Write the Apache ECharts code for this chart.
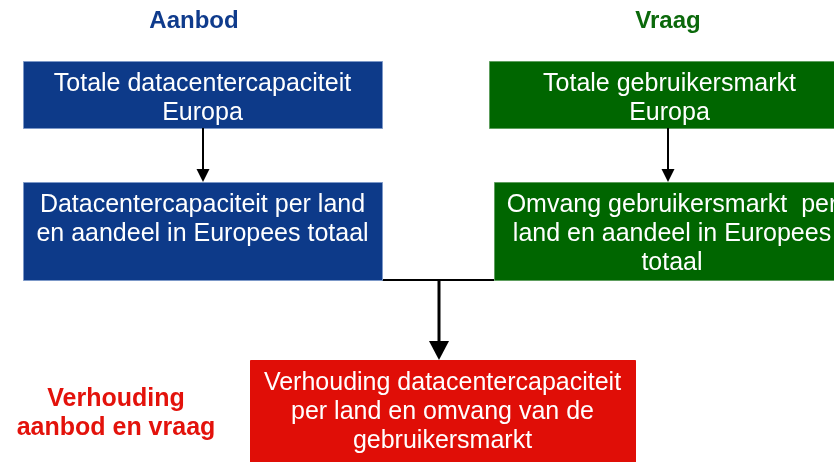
<!DOCTYPE html>
<html>
<head>
<meta charset="utf-8">
<script src="https://cdn.jsdelivr.net/npm/echarts@6/dist/echarts.min.js"></script>
<style>
  html, body { margin: 0; padding: 0; background: #ffffff; }
  #chart { width: 834px; height: 462px; }
</style>
</head>
<body>
<div id="chart"></div>
<script>
// 方框文字
const boxTexts = [
    'Totale datacentercapaciteit\nEuropa',
    'Datacentercapaciteit per land\nen aandeel in Europees totaal',
    'Totale gebruikersmarkt\nEuropa',
    'Omvang gebruikersmarkt  per\nland en aandeel in Europees\ntotaal',
    'Verhouding datacentercapaciteit\nper land en omvang van de\ngebruikersmarkt'
];
// 方框所属组: aanbod / vraag / verhouding
const boxGroups = ['aanbod', 'aanbod', 'vraag', 'vraag', 'verhouding'];
// 方框范围 (图表单位)
const boxLeft = [23, 23, 489, 494, 250];
const boxTop = [61, 182, 61, 182, 360];
const boxRight = [382, 382, 850, 850, 635];
const boxBottom = [128, 280, 128, 280, 470];

// 连接线: [x1, y1, x2, y2]
const plainLines = [[382, 280, 494, 280]];
const arrowLines = [
    [203, 128, 203, 182],
    [668, 128, 668, 182],
    [439, 280, 439, 360]
];
const arrowKinds = ['small', 'small', 'big'];

// 标题
const headingTexts = ['Aanbod', 'Vraag', 'Verhouding\naanbod en vraag'];
const headingGroups = ['aanbod', 'vraag', 'verhouding'];
const headingX = [194, 668, 116];
const headingY = [21, 21, 414];

const fillColors = { aanbod: '#0D3A89', vraag: '#006600', verhouding: '#E00E07' };
const borderColors = { aanbod: '#7C98C8', vraag: '#5E9E5E', verhouding: '#E00E07' };
const headingColors = { aanbod: '#0F3B8C', vraag: '#0B690B', verhouding: '#E3120B' };
const headingSizes = [24, 24, 25];
const arrowStyle = {
    small: { width: 2, head: 13, len: 13 },
    big: { width: 3, head: 20, len: 19 }
};

const FONT = '"Liberation Sans", Arial, sans-serif';

const chartDom = document.getElementById('chart');
const myChart = echarts.init(chartDom);

const boxData = boxTexts.map((t, i) => [boxLeft[i], boxTop[i], boxRight[i], boxBottom[i], i]);
const arrowData = arrowLines.map((l, i) => [l[0], l[1], l[2], l[3], i]);

function renderBox(params, api) {
    const i = api.value(4);
    const p0 = api.coord([api.value(0), api.value(1)]);
    const p1 = api.coord([api.value(2), api.value(3)]);
    const g = boxGroups[i];
    return {
        type: 'group',
        children: [{
            type: 'rect',
            shape: { x: p0[0] + 0.5, y: p0[1] + 0.5, width: p1[0] - p0[0], height: p1[1] - p0[1] },
            style: { fill: fillColors[g], stroke: borderColors[g], lineWidth: 1 }
        }, {
            type: 'text',
            x: (p0[0] + p1[0]) / 2,
            y: p0[1] + 9,
            style: {
                text: boxTexts[i],
                fill: '#ffffff',
                font: '25px ' + FONT,
                lineHeight: 29,
                align: 'center',
                verticalAlign: 'top'
            }
        }]
    };
}

function renderArrow(params, api) {
    const i = api.value(4);
    const s = arrowStyle[arrowKinds[i]];
    const a = api.coord([api.value(0), api.value(1)]);
    const b = api.coord([api.value(2), api.value(3)]);
    // 竖直箭头
    return {
        type: 'group',
        children: [{
            type: 'line',
            shape: { x1: a[0], y1: a[1], x2: b[0], y2: b[1] - s.len + 1 },
            style: { stroke: '#000000', lineWidth: s.width }
        }, {
            type: 'polygon',
            shape: { points: [[b[0] - s.head / 2, b[1] - s.len], [b[0] + s.head / 2, b[1] - s.len], [b[0], b[1]]] },
            style: { fill: '#000000' }
        }]
    };
}

const option = {
    animation: false,
    grid: { left: 0, right: 0, top: 0, bottom: 0 },
    xAxis: { type: 'value', min: 0, max: 834, show: false },
    yAxis: { type: 'value', min: 0, max: 462, inverse: true, show: false },
    graphic: headingTexts.map((t, i) => ({
        type: 'text',
        x: headingX[i],
        y: headingY[i],
        style: {
            text: t,
            fill: headingColors[headingGroups[i]],
            font: 'bold ' + headingSizes[i] + 'px ' + FONT,
            lineHeight: 29,
            align: 'center',
            verticalAlign: 'middle'
        }
    })),
    series: [{
        type: 'custom',
        name: 'lijnen',
        renderItem: function (params, api) {
            const a = api.coord([api.value(0), api.value(1)]);
            const b = api.coord([api.value(2), api.value(3)]);
            return {
                type: 'line',
                shape: { x1: a[0], y1: a[1], x2: b[0], y2: b[1] },
                style: { stroke: '#000000', lineWidth: 2 }
            };
        },
        data: plainLines,
        silent: true
    }, {
        type: 'custom',
        name: 'vakken',
        renderItem: renderBox,
        data: boxData,
        silent: true
    }, {
        type: 'custom',
        name: 'pijlen',
        renderItem: renderArrow,
        data: arrowData,
        silent: true
    }]
};

myChart.setOption(option);
</script>
</body>
</html>
